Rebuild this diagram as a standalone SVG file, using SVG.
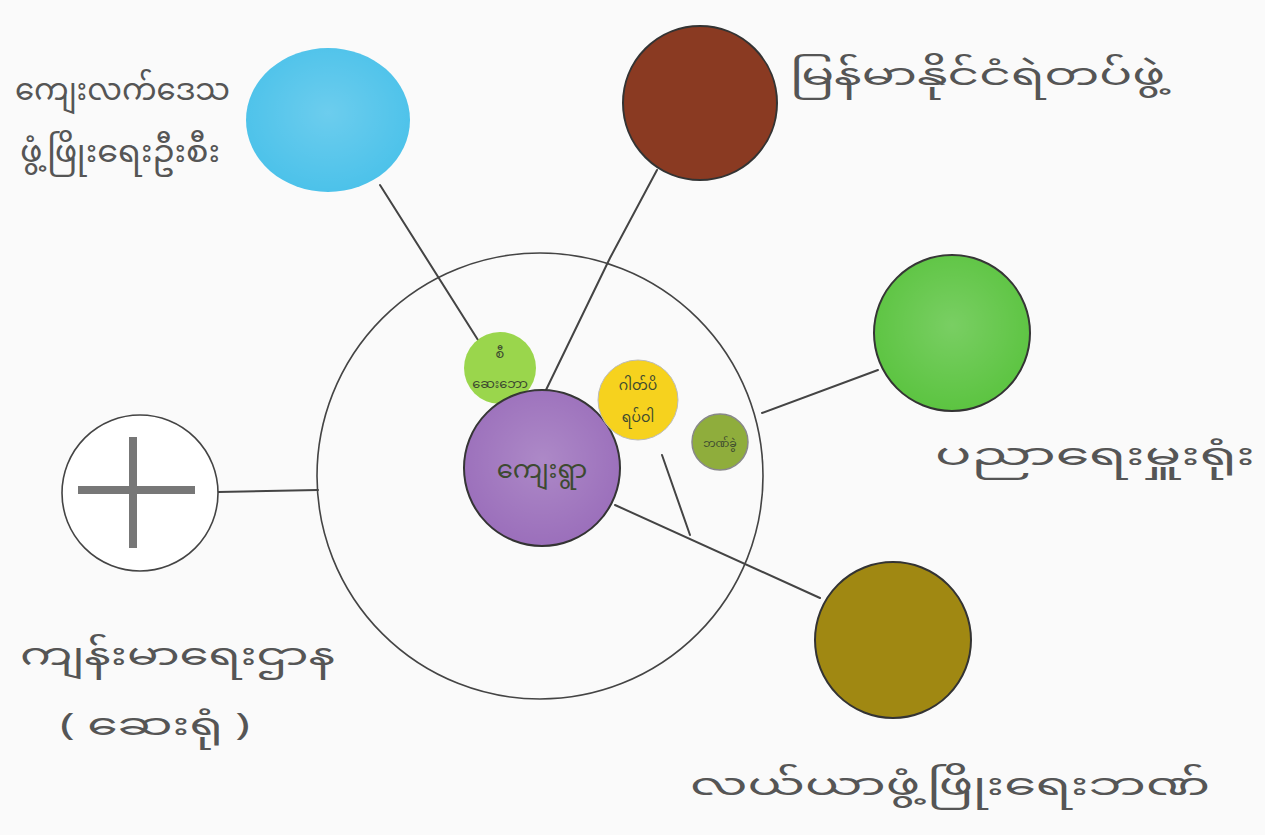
<svg xmlns="http://www.w3.org/2000/svg" width="1265" height="835" viewBox="0 0 1265 835">
<defs>
<radialGradient id="soft" cx="50%" cy="45%" r="55%">
<stop offset="0" stop-color="#fff" stop-opacity="0.18"/>
<stop offset="1" stop-color="#fff" stop-opacity="0"/>
</radialGradient>
</defs>
<style>
.lbl{font-family:"Noto Sans Myanmar","Padauk","Myanmar Text","Noto Sans",sans-serif;fill:#555;font-size:30px}
.in{font-family:"Noto Sans Myanmar","Padauk","Myanmar Text","Noto Sans",sans-serif;fill:#3d4a30}
.edge{stroke:#444;stroke-width:2;fill:none;stroke-linecap:round}
.ring{stroke:#333;stroke-width:2}
</style>
<rect width="1265" height="835" fill="#fafafa"/>
<g id="connectors">
<line class="edge" x1="380" y1="185" x2="478" y2="340"/>
<polyline class="edge" points="657,170 610,258 545,392"/>
<line class="edge" x1="878" y1="370" x2="762" y2="413"/>
<line class="edge" x1="218" y1="492" x2="318" y2="490"/>
<line class="edge" x1="615" y1="505" x2="820" y2="598"/>
<line class="edge" x1="662" y1="455" x2="690" y2="535"/>
</g>
<g id="outer">
<circle cx="540" cy="476" r="223" fill="none" stroke="#444" stroke-width="1.6"/>
</g>
<g id="rural-dev">
<ellipse cx="328" cy="120" rx="82" ry="72" fill="#4cc2ea"/>
<ellipse cx="328" cy="120" rx="82" ry="72" fill="url(#soft)"/>
<text class="lbl" x="15" y="100" font-size="27" textLength="215" lengthAdjust="spacingAndGlyphs">ကျေးလက်ဒေသ</text>
<text class="lbl" x="20" y="162" font-size="27" textLength="200" lengthAdjust="spacingAndGlyphs">ဖွံ့ဖြိုးရေးဦးစီး</text>
</g>
<g id="police">
<circle cx="700" cy="103" r="77" fill="#8a3a22" class="ring"/>
<text class="lbl" x="790" y="85" textLength="375" lengthAdjust="spacingAndGlyphs">မြန်မာနိုင်ငံရဲတပ်ဖွဲ့</text>
</g>
<g id="education">
<circle cx="952" cy="333" r="78" fill="#5cc441" class="ring"/>
<circle cx="952" cy="333" r="78" fill="url(#soft)"/>
<text class="lbl" x="935" y="465" textLength="320" lengthAdjust="spacingAndGlyphs">ပညာရေးမှူးရုံး</text>
</g>
<g id="health">
<circle cx="140" cy="493" r="78" fill="#fff" stroke="#444" stroke-width="1.6"/>
<line x1="133" y1="437" x2="133" y2="548" stroke="#777" stroke-width="8"/>
<line x1="78" y1="490" x2="195" y2="490" stroke="#777" stroke-width="8"/>
<text class="lbl" x="20" y="665" textLength="315" lengthAdjust="spacingAndGlyphs">ကျန်းမာရေးဌာန</text>
<text class="lbl" x="60" y="735" textLength="190" lengthAdjust="spacingAndGlyphs">( ဆေးရုံ )</text>
</g>
<g id="bank">
<circle cx="893" cy="640" r="78" fill="#a08812" class="ring"/>
<text class="lbl" x="690" y="795" textLength="520" lengthAdjust="spacingAndGlyphs">လယ်ယာဖွံ့ဖြိုးရေးဘဏ်</text>
</g>
<g id="small-green">
<circle cx="500" cy="368" r="36" fill="#9ad64c"/>
<text class="in" x="500" y="358" font-size="13" text-anchor="middle">စီ</text>
<text class="in" x="500" y="388" font-size="13" text-anchor="middle">ဆေးဘော</text>
</g>
<g id="village">
<circle cx="542" cy="468" r="78" fill="#9b6fbb" class="ring"/>
<circle cx="542" cy="468" r="78" fill="url(#soft)"/>
<text class="in" x="542" y="478" font-size="26" text-anchor="middle" fill="#4a4a5a">ကျေးရွာ</text>
</g>
<g id="yellow">
<circle cx="638" cy="400" r="40" fill="#f6d21e" stroke="#bbb" stroke-width="1"/>
<text class="in" x="638" y="390" font-size="14" text-anchor="middle" fill="#7a6a10">ဂါတ်ပိ</text>
<text class="in" x="638" y="422" font-size="14" text-anchor="middle" fill="#7a6a10">ရပ်ဝါ</text>
</g>
<g id="small-olive">
<circle cx="720" cy="442" r="28" fill="#8fad3c" stroke="#888" stroke-width="1.5"/>
<text class="in" x="720" y="447" font-size="11" text-anchor="middle" fill="#556">ဘဏ်ခွဲ</text>
</g>
</svg>
